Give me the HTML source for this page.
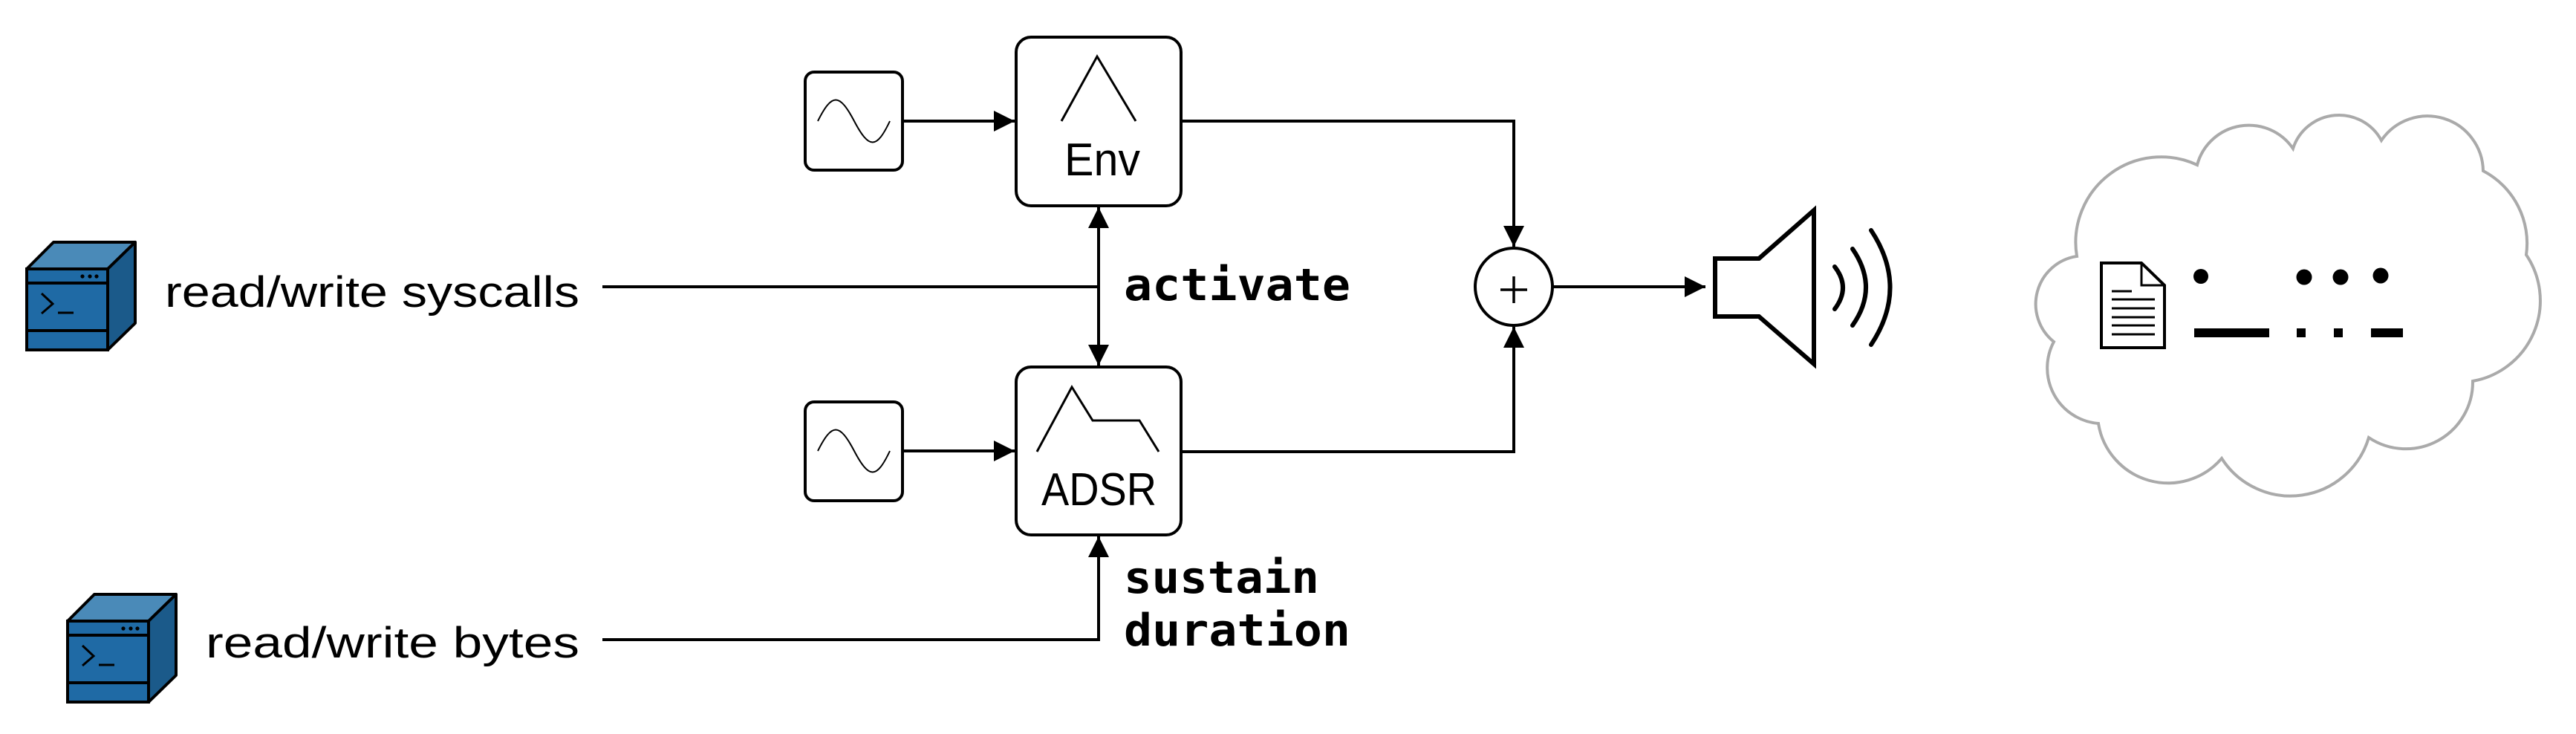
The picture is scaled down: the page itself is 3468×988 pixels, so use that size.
<!DOCTYPE html>
<html><head><meta charset="utf-8"><style>
html,body{margin:0;padding:0;background:#fff;}
svg{display:block;}
</style></head><body>
<svg width="3468" height="988" viewBox="0 0 3468 988" xmlns="http://www.w3.org/2000/svg">
<defs>
<marker id="ah" viewBox="0 0 10 10" refX="10" refY="5" markerWidth="7" markerHeight="7" markerUnits="strokeWidth" orient="auto-start-reverse">
<path d="M0,0 L10,5 L0,10 z" fill="#000"/>
</marker>
<g id="srv">
<polygon points="0,36 36,0 146,0 109,36" fill="#4a8ab8" stroke="#000" stroke-width="4" stroke-linejoin="round"/>
<polygon points="109,36 146,0 146,109 109,145" fill="#1b5a8a" stroke="#000" stroke-width="4" stroke-linejoin="round"/>
<rect x="0" y="36" width="109" height="109" fill="#1f6aa5" stroke="#000" stroke-width="4"/>
<line x1="0" y1="55" x2="109" y2="55" stroke="#000" stroke-width="4"/>
<line x1="0" y1="119" x2="109" y2="119" stroke="#000" stroke-width="4"/>
<circle cx="75" cy="46" r="2.6" fill="#000"/><circle cx="85" cy="46" r="2.6" fill="#000"/><circle cx="94" cy="46" r="2.6" fill="#000"/>
<polyline points="20,69 35,83 20,96" fill="none" stroke="#000" stroke-width="3"/>
<line x1="42" y1="95" x2="63" y2="95" stroke="#000" stroke-width="3"/>
</g>
</defs>

<use href="#srv" x="36" y="326"/>
<use href="#srv" x="91" y="800"/>

<g font-family="Liberation Sans, DejaVu Sans, sans-serif" fill="#000">
<text x="222" y="413" font-size="58" textLength="558" lengthAdjust="spacingAndGlyphs">read/write syscalls</text>
<text x="277" y="885" font-size="58" textLength="503" lengthAdjust="spacingAndGlyphs">read/write bytes</text>
<text x="1433" y="236" font-size="62" textLength="102" lengthAdjust="spacingAndGlyphs">Env</text>
<text x="1402" y="680" font-size="62" textLength="155" lengthAdjust="spacingAndGlyphs">ADSR</text>
</g>
<g font-family="DejaVu Sans Mono, Liberation Mono, monospace" font-weight="bold" font-size="60" fill="#000">
<text x="1513" y="404" textLength="305" lengthAdjust="spacingAndGlyphs">activate</text>
<text x="1513" y="798" textLength="263" lengthAdjust="spacingAndGlyphs">sustain</text>
<text x="1513" y="869" textLength="305" lengthAdjust="spacingAndGlyphs">duration</text>
</g>

<g fill="none" stroke="#000">
<rect x="1084" y="97" width="131" height="132" rx="12" stroke-width="4"/>
<rect x="1084" y="541" width="131" height="133" rx="12" stroke-width="4"/>
<path d="M1101,163 C1120,125 1130,125 1150,163 C1170,201 1180,201 1198,163" stroke-width="2"/>
<path d="M1101,607 C1120,569 1130,569 1150,607 C1170,645 1180,645 1198,607" stroke-width="2"/>
<rect x="1368" y="50" width="222" height="227" rx="20" stroke-width="4"/>
<rect x="1368" y="494" width="222" height="226" rx="20" stroke-width="4"/>
<polyline points="1429,163 1477,76 1529,163" stroke-width="3"/>
<polyline points="1396,608 1443,521 1471,566 1534,566 1560,608" stroke-width="3"/>
<line x1="1215" y1="163" x2="1366" y2="163" stroke-width="4" marker-end="url(#ah)"/>
<line x1="1215" y1="607" x2="1366" y2="607" stroke-width="4" marker-end="url(#ah)"/>
<line x1="811" y1="386" x2="1479" y2="386" stroke-width="4"/>
<line x1="1479" y1="279" x2="1479" y2="492" stroke-width="4" marker-start="url(#ah)" marker-end="url(#ah)"/>
<polyline points="811,861 1479,861 1479,722" stroke-width="4" marker-end="url(#ah)"/>
<polyline points="1590,163 2038,163 2038,332" stroke-width="4" marker-end="url(#ah)"/>
<polyline points="1590,608 2038,608 2038,440" stroke-width="4" marker-end="url(#ah)"/>
<circle cx="2038" cy="386" r="52" stroke-width="4"/>
<line x1="2020" y1="390" x2="2056" y2="390" stroke-width="3.5"/>
<line x1="2038" y1="372" x2="2038" y2="408" stroke-width="3.5"/>
<line x1="2090" y1="386" x2="2296" y2="386" stroke-width="4" marker-end="url(#ah)"/>
<polygon points="2309,348 2368,348 2442,283 2442,490 2368,426 2309,426" stroke-width="6"/>
<path d="M2470,359 Q2492,387 2470,416" stroke-width="6" stroke-linecap="round"/>
<path d="M2494,335 Q2530,387 2494,438" stroke-width="6" stroke-linecap="round"/>
<path d="M2519,310 Q2570,387 2519,464" stroke-width="6" stroke-linecap="round"/>
<path d="M2765,460 A65,65 0 0 1 2796,345 A115,115 0 0 1 2958,222 A72,72 0 0 1 3087,200 A65,65 0 0 1 3206,189 A75,75 0 0 1 3343,230 A110,110 0 0 1 3401,343 A110,110 0 0 1 3329,513 A90,90 0 0 1 3189,589 A110,110 0 0 1 2991,617 A95,95 0 0 1 2825,570 A75,75 0 0 1 2765,460 Z" stroke="#aaa" stroke-width="4" fill="#fff"/>
<path d="M2829,354 L2883,354 L2914,384 L2914,468 L2829,468 Z" fill="#fff" stroke-width="4"/>
<polyline points="2883,354 2883,384 2914,384" stroke-width="3"/>
<g stroke-width="3">
<line x1="2843" y1="392" x2="2870" y2="392"/>
<line x1="2843" y1="403" x2="2901" y2="403"/>
<line x1="2843" y1="415" x2="2901" y2="415"/>
<line x1="2843" y1="427" x2="2901" y2="427"/>
<line x1="2843" y1="438" x2="2901" y2="438"/>
<line x1="2843" y1="450" x2="2901" y2="450"/>
</g>
</g>
<g fill="#000">
<circle cx="2963" cy="372" r="10"/>
<circle cx="3102" cy="373" r="10.5"/>
<circle cx="3151" cy="373" r="10.5"/>
<circle cx="3205" cy="371" r="10.5"/>
<rect x="2954" y="442" width="101" height="12"/>
<rect x="3092" y="442" width="12" height="12"/>
<rect x="3142" y="442" width="12" height="12"/>
<rect x="3192" y="442" width="43" height="12"/>
</g>
</svg>
</body></html>
